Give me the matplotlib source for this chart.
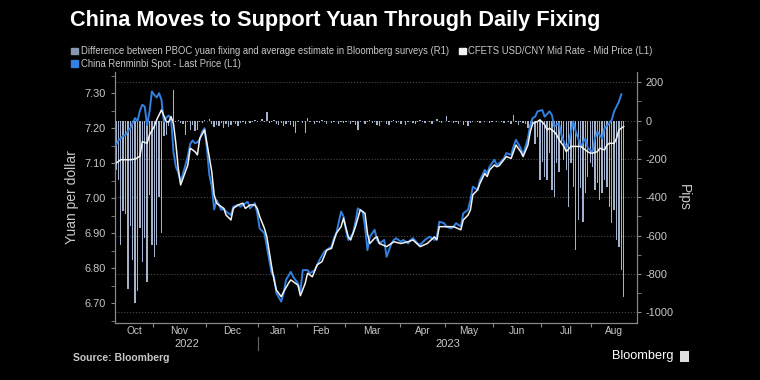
import matplotlib
matplotlib.use("Agg")
import matplotlib.pyplot as plt
from matplotlib.patches import Patch
import matplotlib.transforms as mtransforms

plt.rcParams['font.family'] = ['Liberation Sans Narrow', 'Liberation Sans', 'DejaVu Sans']
plt.rcParams['axes.unicode_minus'] = False

# x axis is counted in onshore trading days, Oct 2022 - mid Aug 2023
months = ['Oct', 'Nov', 'Dec', 'Jan', 'Feb', 'Mar', 'Apr', 'May', 'Jun', 'Jul', 'Aug']
month_days = [16, 22, 22, 16, 20, 23, 19, 20, 20, 21]   # Aug is partial
years = ['2022', '2023']
year_first_month = [0, 3]

# China Renminbi spot (L1)
spot_day = [0, 1, 2, 3, 4, 5, 6, 7, 8, 9, 10, 11, 12, 13, 14, 15, 16, 17, 18, 19,
            20, 21, 22, 23, 24, 25, 26, 27, 28, 29, 30, 31, 32, 33, 34, 35, 36, 37, 38, 39,
            40, 41, 42, 44, 45, 46, 48, 49, 51, 52, 53, 55, 56, 58, 59, 60, 62, 63, 65, 66,
            67, 69, 70, 71, 73, 74, 76, 77, 78, 80, 81, 83, 85, 87, 90, 91, 92, 94, 95, 96,
            97, 99, 100, 101, 103, 104, 105, 106, 108, 109, 110, 112, 113, 115, 116, 117, 119, 120, 122, 123,
            124, 126, 127, 129, 130, 131, 133, 134, 135, 137, 138, 140, 141, 142, 144, 145, 147, 148, 149, 151,
            152, 154, 155, 156, 158, 159, 160, 162, 163, 165, 166, 167, 169, 170, 172, 173, 174, 175, 176, 178,
            179, 181, 182, 183, 185, 186, 188, 189, 190, 191, 192, 193, 194, 196, 197, 199, 200, 201, 203, 204,
            206, 207, 208, 210, 211]
spot_val = [7.152, 7.165, 7.171, 7.178, 7.181, 7.192, 7.200, 7.215, 7.229, 7.220, 7.250, 7.267, 7.262, 7.209, 7.247, 7.305, 7.295, 7.288, 7.300, 7.281,
            7.219, 7.230, 7.236, 7.229, 7.133, 7.090, 7.074, 7.046, 7.070, 7.095, 7.120, 7.155, 7.165, 7.157, 7.160, 7.168, 7.190, 7.200, 7.140, 7.066,
            7.035, 6.968, 6.995, 6.967, 6.971, 6.962, 6.952, 6.976, 6.981, 6.976, 6.981, 6.990, 6.971, 6.986, 6.957, 6.914, 6.900, 6.862, 6.786, 6.776,
            6.729, 6.705, 6.729, 6.767, 6.790, 6.776, 6.757, 6.735, 6.795, 6.795, 6.786, 6.795, 6.824, 6.848, 6.862, 6.886, 6.900, 6.962, 6.948, 6.910,
            6.881, 6.900, 6.933, 6.971, 6.962, 6.919, 6.852, 6.890, 6.910, 6.881, 6.871, 6.881, 6.833, 6.871, 6.881, 6.886, 6.876, 6.881, 6.871, 6.881,
            6.886, 6.871, 6.867, 6.881, 6.886, 6.890, 6.881, 6.890, 6.933, 6.929, 6.919, 6.914, 6.919, 6.929, 6.919, 6.957, 6.967, 6.995, 7.033, 7.024,
            7.052, 7.081, 7.071, 7.090, 7.110, 7.095, 7.100, 7.114, 7.129, 7.124, 7.148, 7.167, 7.143, 7.124, 7.171, 7.210, 7.229, 7.233, 7.248, 7.252,
            7.233, 7.248, 7.238, 7.205, 7.214, 7.181, 7.143, 7.157, 7.190, 7.219, 7.190, 7.171, 7.148, 7.171, 7.143, 7.133, 7.171, 7.190, 7.171, 7.200,
            7.214, 7.224, 7.248, 7.276, 7.297]

# CFETS USD/CNY mid rate (L1)
mid_day = [0, 2, 4, 6, 8, 10, 11, 13, 14, 16, 17, 19, 21, 22, 23, 24, 25, 26, 27, 28,
           30, 31, 33, 34, 35, 37, 38, 40, 41, 42, 44, 45, 46, 48, 49, 51, 53, 54, 56, 58,
           59, 60, 62, 63, 65, 66, 67, 69, 70, 72, 73, 74, 76, 77, 79, 80, 82, 84, 86, 88,
           90, 92, 94, 95, 97, 98, 100, 102, 104, 105, 106, 108, 109, 110, 113, 115, 116, 119, 122, 124,
           127, 130, 133, 134, 135, 138, 141, 144, 145, 147, 148, 149, 151, 152, 154, 155, 156, 158, 159, 160,
           162, 163, 165, 166, 167, 169, 170, 172, 173, 174, 176, 177, 179, 180, 181, 183, 184, 185, 187, 188,
           190, 191, 192, 194, 195, 197, 198, 199, 201, 202, 204, 205, 206, 208, 209, 210, 212]
mid_val = [7.100, 7.110, 7.110, 7.110, 7.112, 7.120, 7.162, 7.157, 7.181, 7.205, 7.224, 7.252, 7.219, 7.217, 7.233, 7.214, 7.157, 7.086, 7.038, 7.057,
           7.095, 7.143, 7.133, 7.124, 7.171, 7.195, 7.157, 7.076, 7.010, 6.986, 6.976, 6.971, 6.952, 6.938, 6.971, 6.981, 6.986, 6.971, 6.981, 6.981,
           6.971, 6.948, 6.914, 6.890, 6.805, 6.767, 6.738, 6.719, 6.733, 6.757, 6.767, 6.762, 6.752, 6.722, 6.757, 6.786, 6.776, 6.810, 6.819, 6.852,
           6.857, 6.900, 6.919, 6.943, 6.890, 6.881, 6.919, 6.967, 6.957, 6.900, 6.871, 6.886, 6.890, 6.871, 6.862, 6.871, 6.876, 6.871, 6.876, 6.881,
           6.862, 6.871, 6.890, 6.881, 6.919, 6.919, 6.919, 6.910, 6.938, 6.952, 6.967, 7.010, 7.024, 7.043, 7.071, 7.062, 7.081, 7.095, 7.090, 7.093,
           7.110, 7.119, 7.114, 7.133, 7.152, 7.133, 7.119, 7.152, 7.190, 7.214, 7.219, 7.224, 7.210, 7.195, 7.200, 7.190, 7.181, 7.167, 7.148, 7.133,
           7.148, 7.148, 7.148, 7.148, 7.143, 7.133, 7.129, 7.129, 7.133, 7.143, 7.138, 7.152, 7.157, 7.157, 7.171, 7.195, 7.205]

# fixing minus survey estimate, pips (R1), one per trading day 0..212
gap_pips = [-260, -310, -649, -470, -490, -880, -550, -730, -950, -890,
            -560, -736, -614, -840, -388, -650, -710, -650, -400, -588,
            -80, -75, -30, -5, 160, -10, 5, -15, -20, -75,
            -10, -50, -25, -55, -50, -10, -15, 5, -5, 10,
            -20, -35, -25, -30, -15, -40, -20, -35, -25, -10,
            -20, -30, -15, -10, -20, -5, -15, -10, 5, -10,
            -5, 10, -10, 45, -15, -10, 5, -20, -25, -15,
            -30, -20, -10, -25, -35, -65, -10, -5, -15, -65,
            15, -10, -5, -20, -10, -15, 5, -10, -20, -5,
            -15, -10, -5, -20, -10, -15, -10, -5, -20, -10,
            -25, -50, -10, -5, -20, -10, 5, -15, -10, -25,
            -30, -10, -5, -20, -25, -10, 5, -15, -10, -20,
            -5, -25, -10, -5, -15, -20, -10, 5, -10, -15,
            -5, -10, -20, -5, 10, -10, -15, -5, 25, -10,
            -5, -15, -10, -20, -5, -25, -10, -30, -15, -10,
            -5, -10, -15, -5, -10, -5, -15, -10, -5, -10,
            -5, -10, -15, -5, -10, -20, 30, -10, -25, -10,
            -15, -20, -40, -20, -30, -125, -85, -310, -214, -292,
            -310, -170, -362, -397, -223, -266, -118, -205, -258, -449,
            -223, -345, -675, -518, -353, -527, -379, -292, -223, -240,
            -362, -327, -414, -379, -310, -345, -449, -536, -466, -623,
            -658, -780, -919]
gap_day = list(range(len(gap_pips)))

BG = 'black'
TXT = '#c8c8c8'
BLUE = '#3280e0'
WHITE = '#f2f2f2'
BAR = '#a3b3cd'

fig = plt.figure(figsize=(7.6, 3.8), dpi=100, facecolor=BG)
renderer = fig.canvas.get_renderer()


def fit_size(s, base, target_px, **kw):
    # font size that makes string s about target_px wide with the font actually found
    probe = fig.text(0, 0, s, fontsize=base, **kw)
    w = probe.get_window_extent(renderer).width
    probe.remove()
    return base * target_px / w


title_fs = fit_size('China Moves to Support Yuan Through Daily Fixing', 16, 530, fontweight='bold')
legend_fs = fit_size('Difference between PBOC yuan fixing and average estimate in Bloomberg surveys (R1)', 8, 374)
source_fs = fit_size('Source: Bloomberg', 8, 96, fontweight='bold')
brand_fs = fit_size('Bloomberg', 10, 62)
tick_fs = fit_size('-1000', 9, 28)
month_fs = fit_size('Oct', 9, 16)
year_fs = fit_size('2022', 9, 25)
label_fs = fit_size('Yuan per dollar', 11, 93)

ax = fig.add_axes([0.151, 0.150, 0.687, 0.661])
ax2 = ax.twinx()
ax.set_zorder(ax2.get_zorder() + 1)
ax.patch.set_visible(False)
ax2.set_facecolor(BG)

ax2.bar(gap_day, gap_pips, width=0.55, color=BAR, linewidth=0)
ax.plot(spot_day, spot_val, color=BLUE, linewidth=1.4)
ax.plot(mid_day, mid_val, color=WHITE, linewidth=1.1)

# month boundaries and label positions
starts = [0]
for n in month_days:
    starts.append(starts[-1] + n)
x_end = 217.5
edges = [s - 0.5 for s in starts] + [x_end]
centers = [(edges[i] + edges[i + 1]) / 2 for i in range(len(months))]

ax.set_xlim(-0.5, x_end)
ax.set_ylim(6.644, 7.361)
ax2.set_ylim(-1056, 254)

ax.set_xticks(edges[1:-1])
ax.set_xticklabels([])
ax.set_xticks(centers, minor=True)
ax.set_xticklabels(months, minor=True)
ax.tick_params(axis='x', which='major', length=3, color='#888888')
ax.tick_params(axis='x', which='minor', length=0, pad=2, labelsize=month_fs, labelcolor=TXT)

ax.set_yticks([6.70, 6.80, 6.90, 7.00, 7.10, 7.20, 7.30])
ax.set_yticklabels(['6.70', '6.80', '6.90', '7.00', '7.10', '7.20', '7.30'])
ax.set_yticks([6.65, 6.75, 6.85, 6.95, 7.05, 7.15, 7.25, 7.35], minor=True)
ax.tick_params(axis='y', which='both', length=3, color='#888888', labelsize=tick_fs, labelcolor=TXT)

ax2.set_yticks(list(range(-1000, 201, 200)))
ax2.set_yticks(list(range(-900, 201, 200)), minor=True)
ax2.tick_params(axis='y', which='both', length=3, color='#888888', labelsize=tick_fs, labelcolor=TXT)

# dotted grid behind the bars
ax2.set_axisbelow(True)
ax2.set_xticks(edges[1:-1])
ax2.grid(True, which='major', color='#4a4a4a', linestyle=':', linewidth=0.8)

for a in (ax, ax2):
    a.spines['top'].set_visible(False)
    for side in ('left', 'right', 'bottom'):
        a.spines[side].set_color('#888888')
        a.spines[side].set_linewidth(0.8)

ax.set_ylabel('Yuan per dollar', fontsize=label_fs, color=TXT, labelpad=4)
ax2.set_ylabel('Pips', fontsize=label_fs, color=TXT, rotation=270, labelpad=12)

# year labels under the months, with a separator at the new year
trans = mtransforms.blended_transform_factory(ax.transData, ax.transAxes)
year_edges = [edges[i] for i in year_first_month] + [x_end]
for i, yr in enumerate(years):
    ax.text((year_edges[i] + year_edges[i + 1]) / 2, -0.083, yr, transform=trans,
            ha='center', va='center', fontsize=year_fs, color=TXT)
ax.plot([year_edges[1], year_edges[1]], [-0.056, -0.108], transform=trans,
        color='#666666', linewidth=0.8, clip_on=False)

fig.text(0.092, 0.947, 'China Moves to Support Yuan Through Daily Fixing',
         fontsize=title_fs, fontweight='bold', color='white', va='center')

handles = [Patch(color='#8797b2'), Patch(color=BLUE), Patch(color=WHITE)]
labels = ['Difference between PBOC yuan fixing and average estimate in Bloomberg surveys (R1)',
          'China Renminbi Spot - Last Price (L1)',
          'CFETS USD/CNY Mid Rate - Mid Price (L1)']
fig.legend(handles, labels, ncol=2, loc='upper left', bbox_to_anchor=(0.094, 0.878),
           frameon=False, fontsize=legend_fs, labelcolor=TXT, handlelength=0.7, handleheight=0.7,
           handletextpad=0.25, columnspacing=1.1, labelspacing=0.25, borderpad=0, borderaxespad=0)

fig.text(0.096, 0.058, 'Source: Bloomberg', fontsize=source_fs, fontweight='bold', color=TXT, va='center')
fig.text(0.886, 0.062, 'Bloomberg', fontsize=brand_fs, color='white', va='center', ha='right')
fig.patches.append(plt.Rectangle((0.895, 0.047), 0.012, 0.03, transform=fig.transFigure,
                                 facecolor='#dddddd', edgecolor='none'))

fig.savefig('out.png', dpi=100, facecolor=BG)
